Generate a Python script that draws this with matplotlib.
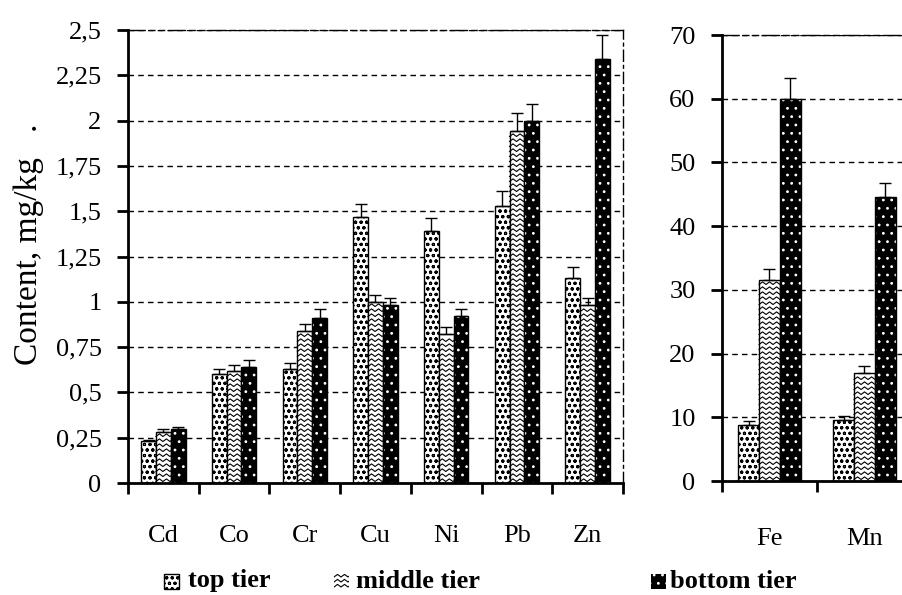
import numpy as np
import matplotlib
matplotlib.use('Agg')
import matplotlib.pyplot as plt
from matplotlib.lines import Line2D
from matplotlib.patches import Rectangle
from matplotlib.transforms import IdentityTransform

# data
metals_a = ['Cd', 'Co', 'Cr', 'Cu', 'Ni', 'Pb', 'Zn']
top_a = [0.23, 0.60, 0.63, 1.47, 1.39, 1.53, 1.13]
mid_a = [0.28, 0.62, 0.84, 1.00, 0.82, 1.94, 0.98]
bot_a = [0.30, 0.64, 0.91, 0.98, 0.92, 2.00, 2.34]
top_a_err = [0.01, 0.03, 0.03, 0.07, 0.07, 0.08, 0.06]
mid_a_err = [0.02, 0.03, 0.04, 0.04, 0.04, 0.10, 0.04]
bot_a_err = [0.01, 0.04, 0.05, 0.04, 0.04, 0.09, 0.13]

metals_b = ['Fe', 'Mn']
top_b = [8.8, 9.5]
mid_b = [31.5, 17.0]
bot_b = [60.0, 44.5]
top_b_err = [0.6, 0.7]
mid_b_err = [1.7, 1.0]
bot_b_err = [3.2, 2.2]

yticks_a = [0, 0.25, 0.5, 0.75, 1, 1.25, 1.5, 1.75, 2, 2.25, 2.5]
yticks_b = [0, 10, 20, 30, 40, 50, 60, 70]
tiers = ['top tier', 'middle tier', 'bottom tier']

serif = ['Liberation Serif', 'DejaVu Serif']
plt.rcParams['font.family'] = serif
plt.rcParams['hatch.linewidth'] = 0.8

W, H = 903, 595
fig = plt.figure(figsize=(W / 100, H / 100), dpi=100)


def px_box(x0, y0, x1, y1):
    # pixel box (top-left origin) -> figure fraction
    return [x0 / W, 1 - y1 / H, (x1 - x0) / W, (y1 - y0) / H]


def zigzag(target, x0, y0, x1, y1, clip, zorder=2.5):
    # horizontal zigzag rows inside a box given in display pixels
    step, half, amp = 5.0, 3.5, 2.6
    xs = np.append(np.arange(x0, x1, half), x1)
    bump = amp * (1 - np.abs(((xs - x0) / half) % 2 - 1))
    for y in np.arange(y0 + 1.5, y1 - amp - 0.5, step):
        ln = Line2D(xs, y + bump, color='black', lw=0.8,
                    transform=IdentityTransform(), zorder=zorder)
        ln.set_clip_path(clip)
        target.add_artist(ln)


def draw_panel(ax, names, top, mid, bot, errs, ylim, yticks, ylabels, bw):
    x = np.arange(len(names))
    ax.set_xlim(-0.5, len(names) - 0.5)
    ax.set_ylim(*ylim)
    ax.set_axisbelow(True)
    # top tier - small rings
    ax.bar(x - bw, top, bw, color='white', edgecolor='black', lw=1,
           hatch='ooo', zorder=2)
    # middle tier - zigzag drawn by hand
    b2 = ax.bar(x, mid, bw, color='white', edgecolor='black', lw=1, zorder=2)
    # bottom tier - black with white dots
    ax.bar(x + bw, bot, bw, color='black', edgecolor='white', lw=0,
           hatch='..', zorder=2)
    ax.bar(x + bw, bot, bw, fill=False, edgecolor='black', lw=1, zorder=3)
    fig.canvas.draw()
    for p in b2.patches:
        bb = p.get_window_extent()
        zigzag(ax, bb.x0, bb.y0, bb.x1, bb.y1, p)
    for off, vals, e in zip([-bw, 0, bw], [top, mid, bot], errs):
        ax.errorbar(x + off, vals, yerr=[np.zeros(len(vals)), e], fmt='none',
                    ecolor='black', elinewidth=1, capsize=4, capthick=1,
                    zorder=4)

    ax.set_yticks(yticks)
    ax.set_yticklabels(ylabels, fontsize=19)
    ax.yaxis.grid(True, color='black', lw=1, linestyle=(0, (4, 3)))
    ax.set_xticks(x)
    ax.set_xticklabels(names, fontsize=19)
    ax.set_xticks(np.arange(len(names) + 1) - 0.5, minor=True)
    ax.tick_params(axis='x', which='major', length=0, pad=30)
    ax.tick_params(axis='x', which='minor', length=8, width=2, direction='out')
    ax.tick_params(axis='y', length=8, width=2, direction='out', pad=11)
    ax.spines['left'].set_linewidth(2)
    ax.spines['bottom'].set_linewidth(2)
    ax.spines['top'].set_linewidth(1)
    ax.spines['top'].set_linestyle((0, (12, 3, 4, 3, 4, 3)))
    ax.spines['right'].set_linewidth(1)
    ax.spines['right'].set_linestyle((0, (8, 3, 2, 3)))


ax1 = fig.add_axes(px_box(128, 30, 623, 483))
fmt = [('%g' % v).replace('.', ',') for v in yticks_a]
draw_panel(ax1, metals_a, top_a, mid_a, bot_a, [top_a_err, mid_a_err, bot_a_err],
           (0, 2.5), yticks_a, fmt, 0.21)
ax1.set_ylabel('Content, mg/kg   .', fontsize=24, va='center')
ax1.yaxis.set_label_coords((29 - 128) / 495, (483 - 244) / 453)

ax2 = fig.add_axes(px_box(722, 35, 912, 481))
draw_panel(ax2, metals_b, top_b, mid_b, bot_b, [top_b_err, mid_b_err, bot_b_err],
           (0, 70), yticks_b, [str(v) for v in yticks_b], 0.22)
ax2.tick_params(axis='x', which='major', pad=34)

# legend along the bottom
sq = 15
legend_x = [164, 334, 651]
text_x = [188, 356, 670]
yc = 581
r1 = Rectangle((legend_x[0] / W, 1 - (yc + sq / 2) / H), sq / W, sq / H,
               transform=fig.transFigure, facecolor='white', edgecolor='black',
               lw=1, hatch='ooo')
fig.add_artist(r1)
r2 = Rectangle((legend_x[1] / W, 1 - (yc + sq / 2) / H), sq / W, sq / H,
               transform=fig.transFigure, facecolor='white', edgecolor='none')
fig.add_artist(r2)
fig.canvas.draw()
bb = r2.get_window_extent()
zigzag(fig, bb.x0, bb.y0, bb.x1, bb.y1, r2, zorder=3)
r3 = Rectangle((legend_x[2] / W, 1 - (yc + sq / 2) / H), sq / W, sq / H,
               transform=fig.transFigure, facecolor='black', edgecolor='white',
               lw=0, hatch='..')
fig.add_artist(r3)
for tx, name in zip(text_x, tiers):
    fig.text(tx / W, 1 - yc / H, name, fontsize=19, fontweight='bold',
             va='center', ha='left')

fig.savefig('out.png', dpi=100)
